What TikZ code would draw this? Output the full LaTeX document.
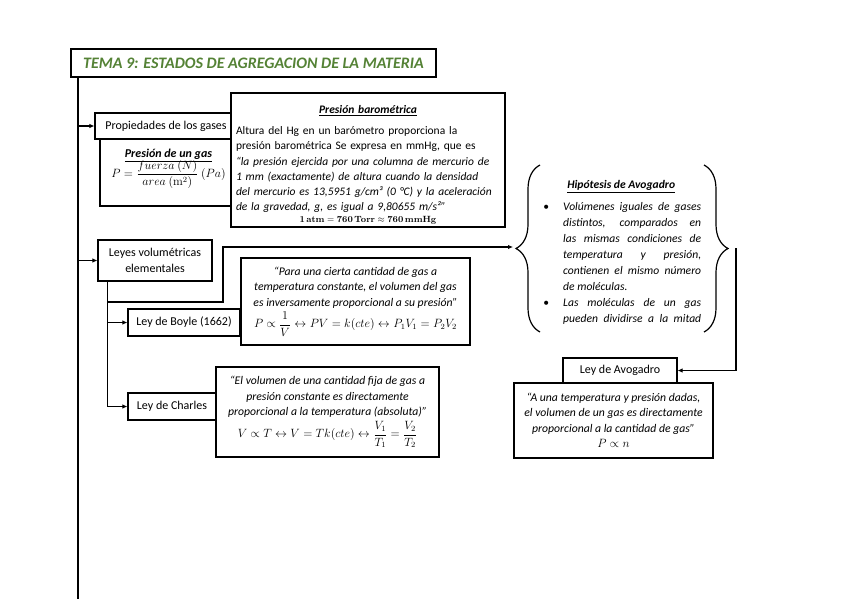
\documentclass[tikz,border=0pt]{standalone}
\usepackage[no-math]{fontspec}
\setmainfont{Carlito}
\usepackage{amsmath}
\usepackage{enumitem}
\usetikzlibrary{arrows.meta, decorations.pathreplacing}
\definecolor{titlegreen}{RGB}{84, 130, 53}

\begin{document}
\begin{tikzpicture}[x=1pt, y=-1pt,
    box/.style={draw, line width=1.2pt, fill=white, inner sep=0pt, align=center, font=\fontsize{12}{16}\selectfont},
    quote/.style={box, font=\fontsize{11.7}{15.5}\selectfont},
    link/.style={line width=1.2pt, -{Latex[length=5pt, width=4.5pt]}},
    trunk/.style={line width=1.8pt}]
    \useasboundingbox (0,0) rectangle (848,599);

    % Title
    \node[box, minimum width=365pt, minimum height=28pt, text=titlegreen,
          font=\fontsize{16}{18}\selectfont\bfseries\itshape] (title) at (253.5,63) {TEMA 9: ESTADOS DE AGREGACION DE LA MATERIA};

    % Properties of gases
    \node[box, minimum width=142pt, minimum height=26pt] (props) at (166,126) {Propiedades de los gases};
    \node[box, minimum width=137pt, minimum height=67pt] (gaspress) at (168.5,172.5)
        {\underline{\textbf{\textit{Presión de un gas}}}\\[-3pt]
         $P=\dfrac{fuerza\ (N)}{area\ (\mathrm{m}^2)}\ (Pa)$\\[2pt]};

    % Barometric pressure
    \node[box, minimum height=134pt, text width=264pt, inner xsep=5pt, align=left,
          font=\fontsize{11.5}{15.2}\selectfont] (barom) at (368,160)
        {\centerline{\rule{0pt}{18pt}\underline{\textbf{\textit{Presión barométrica}}}}\par\vspace{6pt}
         Altura del Hg en un barómetro proporciona la\\
         presión barométrica Se expresa en mmHg, que es\\
         \textit{“la presión ejercida por una columna de mercurio de\\
         1 mm (exactamente) de altura cuando la densidad\\
         del mercurio es 13,5951 g/cm³ (0 °C) y la aceleración\\
         de la gravedad, g, es igual a 9,80655 m/s²”}\par\vspace{-3pt}
         \centerline{\fontsize{9.5}{10}\selectfont$\mathbf{1\,atm} = \mathbf{760\,Torr} \approx \mathbf{760\,mmHg}$}};

    % Volumetric laws
    \node[box, minimum width=114pt, minimum height=41pt] (leyes) at (155,260.5) {Leyes volumétricas\\elementales};
    \node[box, minimum width=112pt, minimum height=27pt] (boyle) at (184,322.5) {Ley de Boyle (1662)};
    \node[quote, minimum width=229pt, minimum height=87pt] (boyletxt) at (355.5,301.5)
        {\textit{“Para una cierta cantidad de gas a}\\
         \textit{temperatura constante, el volumen del gas}\\
         \textit{es inversamente proporcional a su presión”}\\[3pt]
         $P \propto \dfrac{1}{V} \leftrightarrow PV = k(cte) \leftrightarrow P_1V_1 = P_2V_2$};
    \node[box, minimum width=88pt, minimum height=27pt] (charles) at (172,406.5) {Ley de Charles};
    \node[quote, minimum width=223pt, minimum height=90pt] (charlestxt) at (327.5,412)
        {\textit{“El volumen de una cantidad fija de gas a}\\
         \textit{presión constante es directamente}\\
         \textit{proporcional a la temperatura (absoluta)”}\\[3pt]
         $V \propto T \leftrightarrow V = Tk(cte) \leftrightarrow \dfrac{V_1}{T_1} = \dfrac{V_2}{T_2}$};

    % Avogadro
    \node[anchor=north west, text width=160pt, inner sep=0pt, align=justify,
          font=\fontsize{11.6}{16}\selectfont\itshape] (hyp) at (541,180)
        {\hyphenpenalty=10000\relax
         \centerline{\underline{\textbf{Hipótesis de Avogadro}}}
         \begin{itemize}[leftmargin=22pt, labelsep=14pt, topsep=6pt, itemsep=0pt, parsep=0pt]
         \item Volúmenes iguales de gases\linebreak distintos, comparados en\linebreak las mismas condiciones de\linebreak
               temperatura y presión,\linebreak contienen el mismo número\linebreak de moléculas.
         \item Las moléculas de un gas\linebreak pueden dividirse a la mitad\parfillskip=0pt
         \end{itemize}};
    \draw[line width=1.2pt, decorate, decoration={brace, amplitude=24pt}] (540,332) -- (540,165);
    \draw[line width=1.2pt, decorate, decoration={brace, amplitude=24pt}] (704,165) -- (704,332);
    \coordinate (hyptip) at (513,247);
    \coordinate (hypout) at (736,248);
    \node[box, minimum width=114pt, minimum height=25pt] (avolabel) at (620,370.5) {Ley de Avogadro};
    \node[quote, minimum width=199pt, minimum height=75pt] (avotxt) at (613.5,420.5)
        {\textit{“A una temperatura y presión dadas,}\\
         \textit{el volumen de un gas es directamente}\\
         \textit{proporcional a la cantidad de gas”}\\
         $P \propto n$};

    % Connectors
    \coordinate (mainend) at (78,599);
    \coordinate (sub) at ([xshift=10pt]leyes.south west);
    \coordinate (bend) at (223,302);
    \draw[trunk] (mainend |- title.south) -- (mainend);
    \draw[link] (mainend |- props.west) -- (props.west);
    \draw[link] (mainend |- leyes.west) -- (leyes.west);
    \draw[link] (sub) |- (charles.west);
    \draw[link] (sub |- boyle.west) -- (boyle.west);
    \draw[link] (sub |- bend) -- (bend) |- (hyptip);
    \draw[link] (hypout) |- (avolabel.east);
\end{tikzpicture}
\end{document}
